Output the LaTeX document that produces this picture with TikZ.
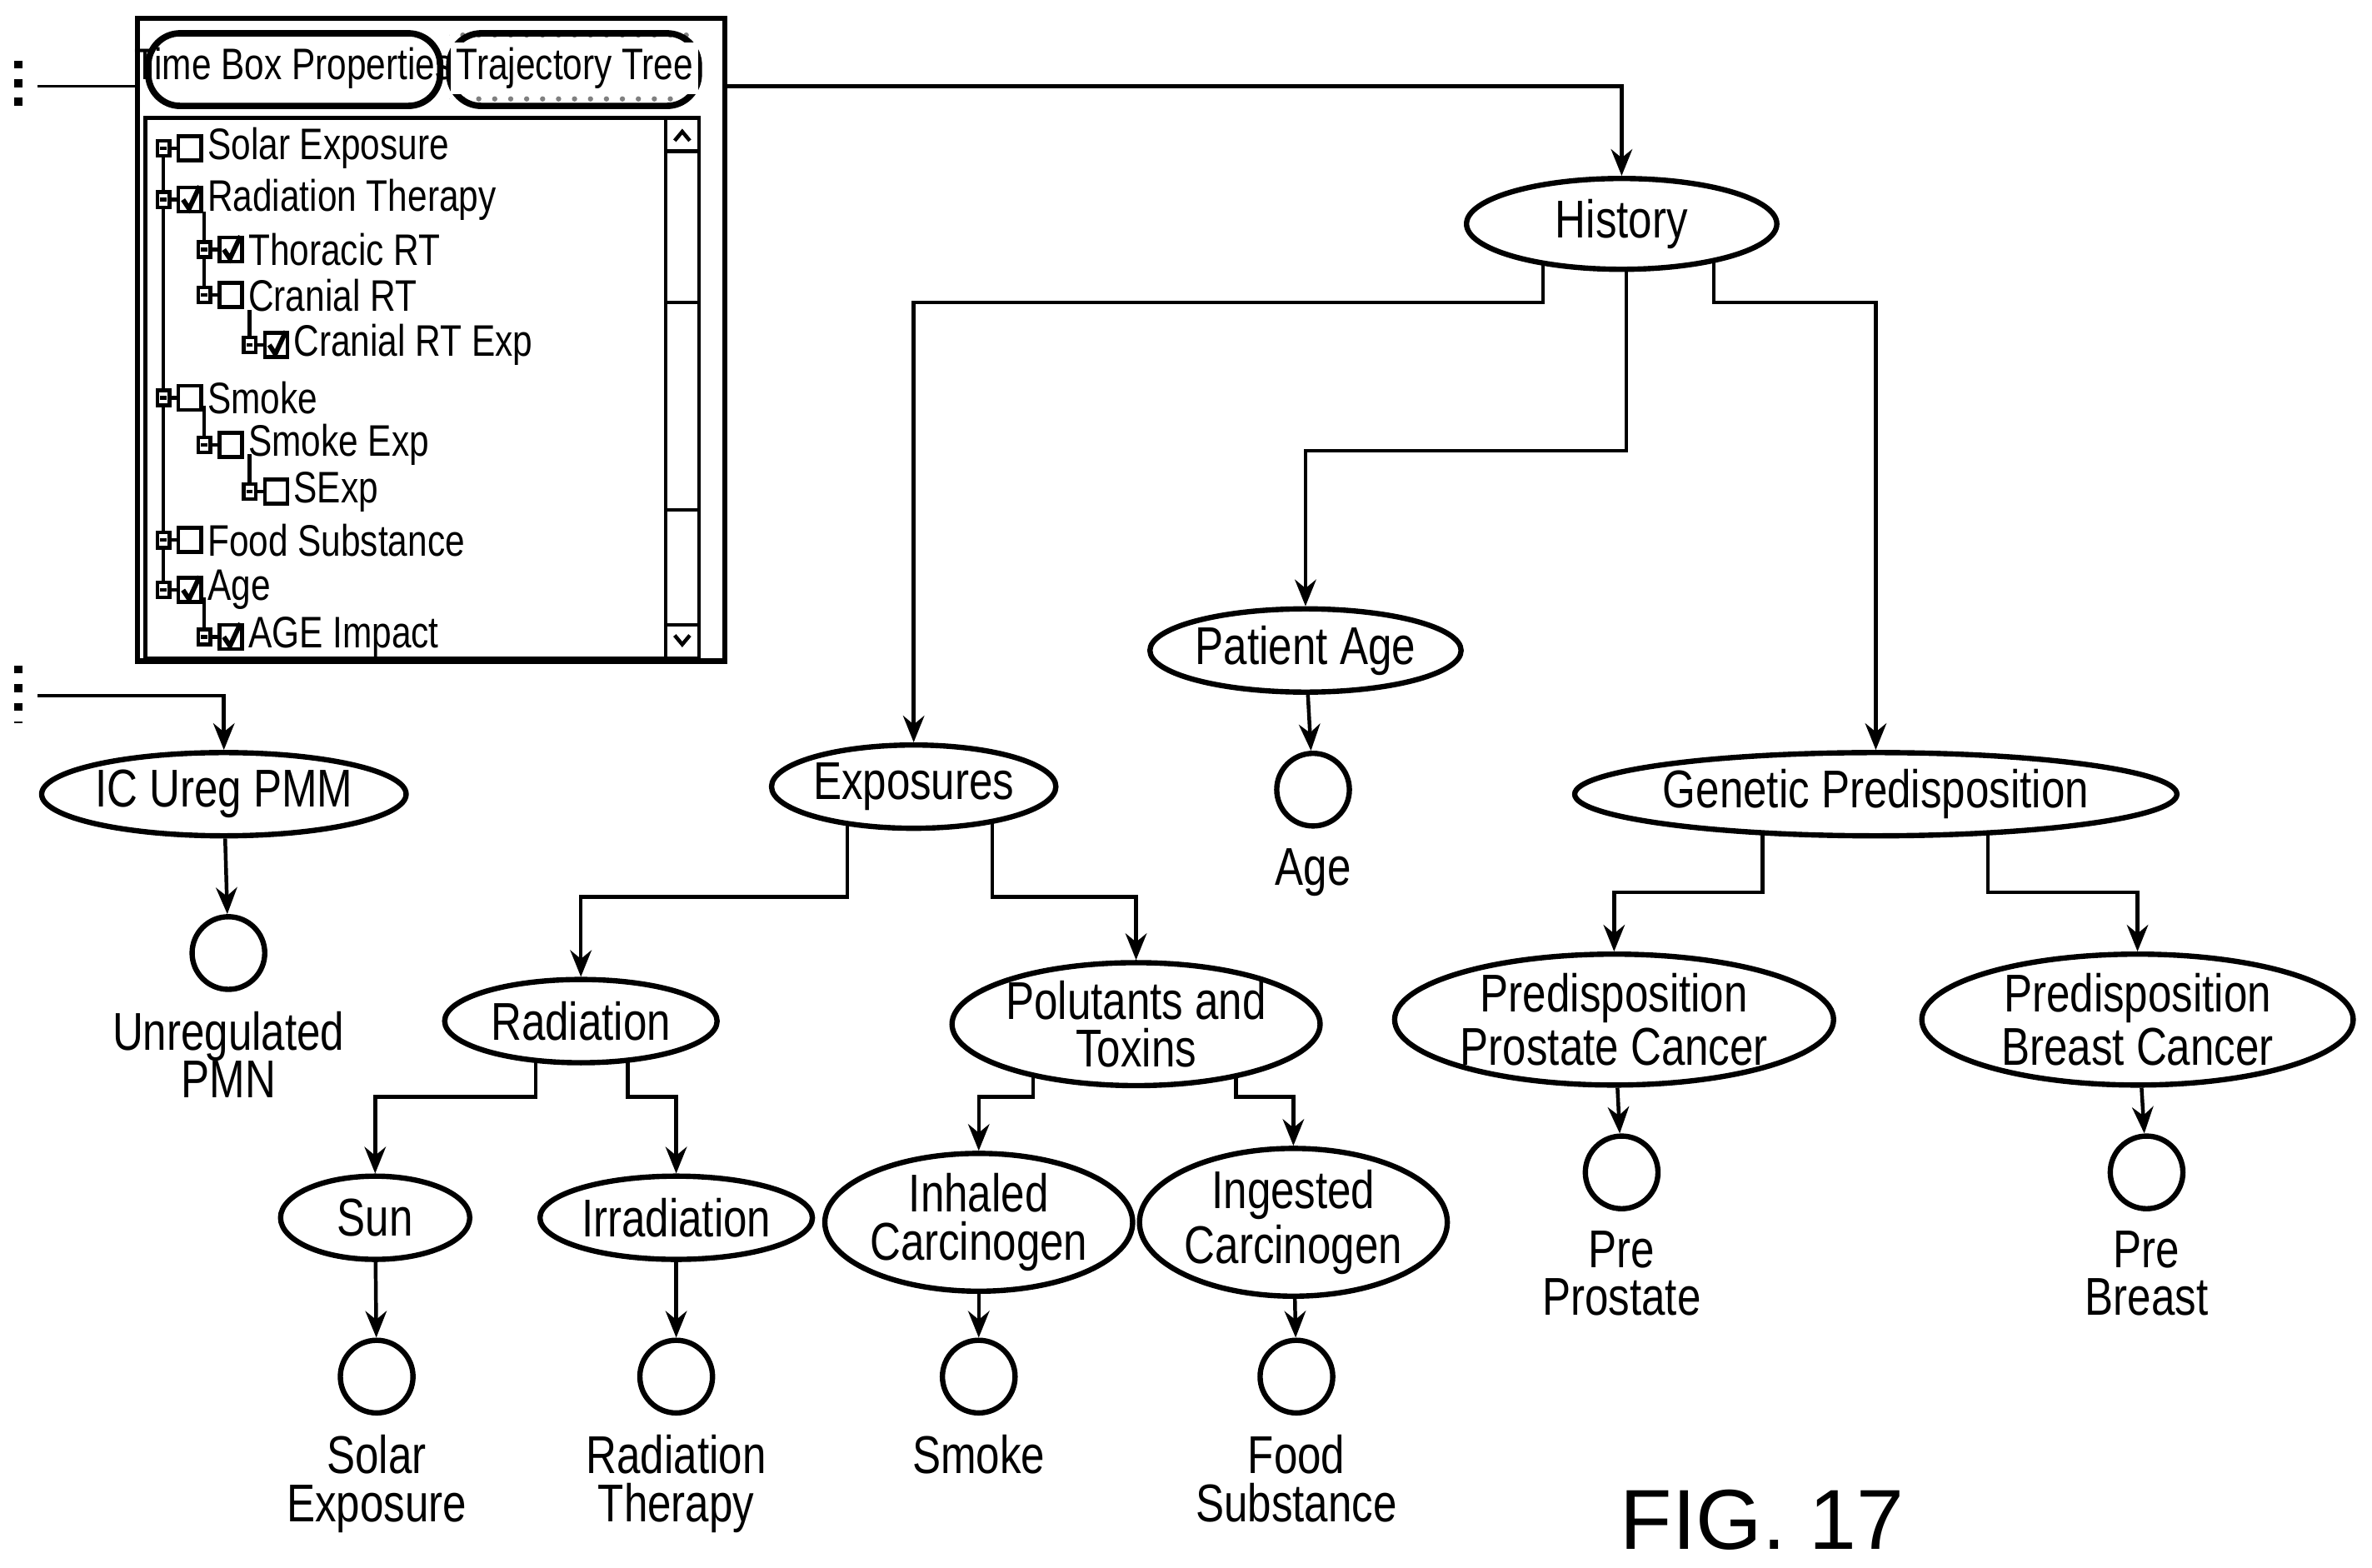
\documentclass[tikz,border=0pt]{standalone}
\usepackage{fontspec}
\setmainfont{Liberation Sans}[FakeStretch=0.8]
\newfontfamily\figfont{Liberation Sans}
\usetikzlibrary{calc,positioning,patterns,backgrounds,arrows.meta,shapes.geometric}

\tikzset{
  arr/.style={-{Stealth[length=5pt,width=4pt]},line width=0.7pt},
  oval/.style={ellipse,draw,line width=1pt,fill=white,inner sep=0pt,
               align=center,font=\fontsize{10}{9}\selectfont},
  leaf/.style={circle,draw,line width=1pt,fill=white,minimum size=0.48cm,inner sep=0pt},
  lbl/.style={below=0pt,align=center,font=\fontsize{10}{9}\selectfont},
}
\newcommand\panelfont{\fontsize{8.3}{8}\selectfont}
% x, y, text, checked
\newcommand\titem[4]{%
  \draw[fill=white] (#1-4,#2-5) rectangle (#1+4,#2+5);
  \draw (#1-2,#2) -- (#1+2,#2);
  \draw (#1+4,#2) -- (#1+9,#2);
  \draw (#1+10,#2-8) rectangle (#1+25,#2+8);
  \ifnum#4=1 \draw[line width=0.9pt] (#1+13,#2) -- (#1+17,#2+6) -- (#1+24,#2-9);\fi
  \node[anchor=west,inner sep=0pt,font=\panelfont] at (#1+28,#2) {#3};}

\begin{document}
\begin{tikzpicture}[x=0.01cm,y=-0.01cm,line width=0.7pt]
\useasboundingbox (0,0) rectangle (1568,1036);

% pannello
\draw[line width=1pt] (91,12) rectangle (479,437);
\draw[line width=1.2pt,rounded corners=6pt] (98,22) rectangle (291,70);
\node[font=\panelfont] at (194,45) {Time Box Properties};
\fill[pattern=dots,pattern color=gray] (297,22) rectangle (462,70);
\draw[line width=1.2pt,rounded corners=6pt] (297,22) rectangle (462,70);
\node[font=\panelfont,fill=white,inner sep=1pt] at (380,45) {Trajectory Tree};
\draw (96,78) rectangle (462,435);
\draw (440,78) rectangle (462,435);
\draw (440,100) -- (462,100) (440,200) -- (462,200) (440,337) -- (462,337) (440,413) -- (462,413);
\draw (446,93) -- (451,87) -- (456,93);
\draw (446,420) -- (451,426) -- (456,420);
\draw (108,98) -- (108,390);
\draw (135,140) -- (135,195);
\draw (165,205) -- (165,228);
\draw (135,268) -- (135,294);
\draw (165,300) -- (165,325);
\draw (135,395) -- (135,421);
\titem{108}{98}{Solar Exposure}{0}
\titem{108}{132}{Radiation Therapy}{1}
\titem{135}{165}{Thoracic RT}{1}
\titem{135}{195}{Cranial RT}{0}
\titem{165}{228}{Cranial RT Exp}{1}
\titem{108}{263}{Smoke}{0}
\titem{135}{294}{Smoke Exp}{0}
\titem{165}{325}{SExp}{0}
\titem{108}{357}{Food Substance}{0}
\titem{108}{390}{Age}{1}
\titem{135}{421}{AGE Impact}{1}

% bordo sinistro
\draw[dotted,line width=1.5pt] (12,40) -- (12,76);
\draw[dotted,line width=1.5pt] (12,440) -- (12,478);
\coordinate (lt) at (25,57);
\coordinate (pl) at (91,57);
\coordinate (pr) at (479,57);
\coordinate (lb) at (25,460);

% nodi
\node[oval,minimum width=2.05cm,minimum height=0.6cm] (history) at (1072,148) {History};
\node[oval,minimum width=1.8cm,minimum height=0.55cm] (patage) at (863,430) {Patient Age};
\node[leaf] (age) at (868,522) {};
\node[lbl] at (age.south) {Age};
\node[oval,minimum width=1.8cm,minimum height=0.55cm] (expo) at (604,520) {Exposures};
\node[oval,minimum width=3.35cm,minimum height=0.55cm] (genet) at (1240,525) {Genetic Predisposition};
\node[oval,minimum width=2.05cm,minimum height=0.55cm] (icureg) at (148,525) {IC Ureg PMM};
\node[leaf] (unreg) at (151,630) {};
\node[lbl] at (unreg.south) {Unregulated\\PMN};
\node[oval,minimum width=1.8cm,minimum height=0.55cm] (radia) at (384,675) {Radiation};
\node[oval,minimum width=2.4cm,minimum height=0.7cm] (polut) at (751,677) {Polutants and\\Toxins};
\node[oval,minimum width=2.9cm,minimum height=0.75cm] (prost) at (1067,674) {Predisposition\\Prostate Cancer};
\node[oval,minimum width=2.85cm,minimum height=0.75cm] (breast) at (1413,674) {Predisposition\\Breast Cancer};
\node[oval,minimum width=1.25cm,minimum height=0.55cm] (sun) at (248,805) {Sun};
\node[oval,minimum width=1.8cm,minimum height=0.55cm] (irrad) at (447,805) {Irradiation};
\node[oval,minimum width=1.9cm,minimum height=0.7cm] (inhal) at (647,808) {Inhaled\\Carcinogen};
\node[oval,minimum width=1.85cm,minimum height=0.7cm] (inges) at (855,808) {Ingested\\Carcinogen};
\node[leaf] (solar) at (249,910) {};
\node[lbl] at (solar.south) {Solar\\Exposure};
\node[leaf] (radther) at (447,910) {};
\node[lbl] at (radther.south) {Radiation\\Therapy};
\node[leaf] (smoke) at (647,910) {};
\node[lbl] at (smoke.south) {Smoke};
\node[leaf] (food) at (857,910) {};
\node[lbl] at (food.south) {Food\\Substance};
\node[leaf] (preprost) at (1072,775) {};
\node[lbl] at (preprost.south) {Pre\\Prostate};
\node[leaf] (prebreast) at (1419,775) {};
\node[lbl] at (prebreast.south) {Pre\\Breast};
\node[font=\figfont\fontsize{16}{16}\selectfont] (fig) at (1165,1005) {FIG. 17};

% collegamenti
\begin{scope}[on background layer]
\draw (lt) -- (pl);
\draw[arr] (pr) -| (history);
\draw[arr] (lb) -| (icureg);
\draw[arr] ($(history)+(-52,0)$) -- ++(0,52) -| (expo);
\draw[arr] ($(history)+(3,0)$) -- ++(0,150) -| (patage);
\draw[arr] ($(history)+(61,0)$) -- ++(0,52) -| (genet);
\draw[arr] ($(expo)+(-44,0)$) -- ++(0,73) -| (radia);
\draw[arr] ($(expo)+(52,0)$) -- ++(0,73) -| (polut);
\draw[arr] ($(radia)+(-30,0)$) -- ++(0,50) -| (sun);
\draw[arr] ($(radia)+(31,0)$) -- ++(0,50) -| (irrad);
\draw[arr] ($(polut)+(-68,0)$) -- ++(0,48) -| (inhal);
\draw[arr] ($(polut)+(66,0)$) -- ++(0,48) -| (inges);
\draw[arr] ($(genet)+(-75,0)$) -- ++(0,65) -| (prost);
\draw[arr] ($(genet)+(74,0)$) -- ++(0,65) -| (breast);
\end{scope}
\draw[arr] (patage) -- (age);
\draw[arr] (icureg) -- (unreg);
\draw[arr] (sun) -- (solar);
\draw[arr] (irrad) -- (radther);
\draw[arr] (inhal) -- (smoke);
\draw[arr] (inges) -- (food);
\draw[arr] (prost) -- (preprost);
\draw[arr] (breast) -- (prebreast);
\end{tikzpicture}
\end{document}
